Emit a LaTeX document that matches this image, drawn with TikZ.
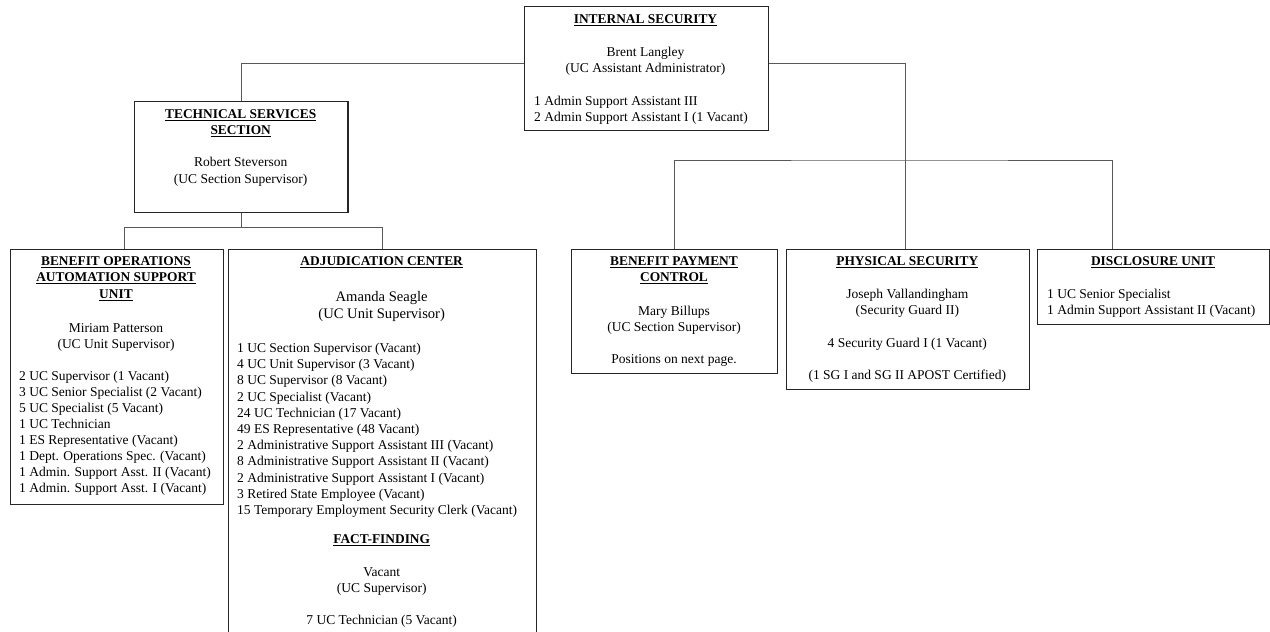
\documentclass[tikz,border=0pt]{standalone}
\usepackage{fontspec}
\setmainfont{Liberation Serif}
\begin{document}
\begin{tikzpicture}[x=1pt,y=-1pt,
  unitbox/.style={draw=black!85, line width=1.1pt, anchor=north west, inner sep=0pt},
  link/.style={draw=black!65, line width=0.9pt},
  txt/.style={anchor=base, inner sep=0pt, font=\fontsize{13.5}{16}\selectfont},
  lefttxt/.style={txt, anchor=base west},
  bigtxt/.style={txt, font=\fontsize{14.6}{17}\selectfont},
  ttl/.style={txt, font=\fontsize{13.4}{16}\selectfont\bfseries}
]
\useasboundingbox (0,0) rectangle (1270,632);

% ---- boxes ----
\node[unitbox, minimum width=244pt, minimum height=124pt] (is)  at (523.5,6) {};
\node[unitbox, minimum width=213.4pt, minimum height=111pt] (tss) at (134,100.5) {};
\node[unitbox, minimum width=213pt, minimum height=255pt] (boa) at (9.5,248.5) {};
\node[unitbox, minimum width=308.5pt, minimum height=400pt] (adj) at (227.5,248.5) {};
\node[unitbox, minimum width=206pt, minimum height=124pt] (bpc) at (571,248.5) {};
\node[unitbox, minimum width=243.5pt, minimum height=140pt] (ps)  at (785.5,248.5) {};
\node[unitbox, minimum width=232pt, minimum height=75pt] (du)  at (1037,248.5) {};

% ---- connectors ----
\coordinate (isrow) at (0,63);
\coordinate (bus1row) at (0,227);
\coordinate (bus2) at (905.6,160);
\coordinate (boaIn) at (124.5,248.5);
\coordinate (duIn) at (1112,248.5);
\draw[link] (is.west |- isrow) -| (tss.north);
\draw[link] (is.east |- isrow) -| (bus2) -- (bus2 |- ps.north);
\draw[link] (bpc.north) |- (bus2) -| (duIn);
\draw[link] (tss.south) -- (tss.south |- bus1row);
\draw[link] (boaIn) |- (bus1row -| adj.north) -- (adj.north);

% ---- Internal Security ----
\node[ttl] (is-t) at (645.5,23.5) {\underline{INTERNAL SECURITY}};
\node[txt] (is-n) at (645.5,56.5) {Brent Langley};
\node[txt] (is-r) at (645.5,72.5) {(UC Assistant Administrator)};
\node[lefttxt] (is-1) at (534,105.5) {1 Admin Support Assistant III};
\node[lefttxt] (is-2) at (534,121.5) {2 Admin Support Assistant I (1 Vacant)};

% ---- Technical Services Section ----
\node[ttl] (tss-t1) at (240.7,118.5) {\underline{TECHNICAL SERVICES}};
\node[ttl] (tss-t2) at (240.7,134.5) {\underline{SECTION}};
\node[txt] (tss-n) at (240.7,166.5) {Robert Steverson};
\node[txt] (tss-r) at (240.7,183.5) {(UC Section Supervisor)};

% ---- Benefit Operations Automation Support Unit ----
\node[ttl] (boa-t1) at (116,265.5) {\underline{BENEFIT OPERATIONS}};
\node[ttl] (boa-t2) at (116,281.5) {\underline{AUTOMATION SUPPORT}};
\node[ttl] (boa-t3) at (116,298.5) {\underline{UNIT}};
\node[txt] (boa-n) at (116,332.5) {Miriam Patterson};
\node[txt] (boa-r) at (116,348.5) {(UC Unit Supervisor)};
\foreach \line [count=\i from 0] in {%
  2 UC Supervisor (1 Vacant),
  3 UC Senior Specialist (2 Vacant),
  5 UC Specialist (5 Vacant),
  1 UC Technician,
  1 ES Representative (Vacant),
  1 Dept. Operations Spec. (Vacant),
  1 Admin. Support Asst. II (Vacant),
  1 Admin. Support Asst. I (Vacant)}
  \node[lefttxt] (boa-l\i) at (19,380.5+16.05*\i) {\line};

% ---- Adjudication Center ----
\node[ttl] (adj-t) at (381.7,265.5) {\underline{ADJUDICATION CENTER}};
\node[bigtxt] (adj-n) at (381.7,301) {Amanda Seagle};
\node[bigtxt] (adj-r) at (381.7,318) {(UC Unit Supervisor)};
\foreach \line [count=\i from 0] in {%
  1 UC Section Supervisor (Vacant),
  4 UC Unit Supervisor (3 Vacant),
  8 UC Supervisor (8 Vacant),
  2 UC Specialist (Vacant),
  24 UC Technician (17 Vacant),
  49 ES Representative (48 Vacant),
  2 Administrative Support Assistant III (Vacant),
  8 Administrative Support Assistant II (Vacant),
  2 Administrative Support Assistant I (Vacant),
  3 Retired State Employee (Vacant),
  15 Temporary Employment Security Clerk (Vacant)}
  \node[lefttxt] (adj-l\i) at (237,352.5+16.2*\i) {\line};
\node[ttl] (ff-t) at (381.7,543.5) {\underline{FACT-FINDING}};
\node[txt] (ff-n) at (381.7,576.5) {Vacant};
\node[txt] (ff-r) at (381.7,592.5) {(UC Supervisor)};
\node[txt] (ff-1) at (381.7,624.5) {7 UC Technician (5 Vacant)};

% ---- Benefit Payment Control ----
\node[ttl] (bpc-t1) at (674,265.5) {\underline{BENEFIT PAYMENT}};
\node[ttl] (bpc-t2) at (674,281.5) {\underline{CONTROL}};
\node[txt] (bpc-n) at (674,315.5) {Mary Billups};
\node[txt] (bpc-r) at (674,331.5) {(UC Section Supervisor)};
\node[txt] (bpc-p) at (674,363.5) {Positions on next page.};

% ---- Physical Security ----
\node[ttl] (ps-t) at (907.3,265.5) {\underline{PHYSICAL SECURITY}};
\node[txt] (ps-n) at (907.3,298.5) {Joseph Vallandingham};
\node[txt] (ps-r) at (907.3,314.5) {(Security Guard II)};
\node[txt] (ps-g) at (907.3,347.5) {4 Security Guard I (1 Vacant)};
\node[txt] (ps-c) at (907.3,379.5) {(1 SG I and SG II APOST Certified)};

% ---- Disclosure Unit ----
\node[ttl] (du-t) at (1153,265.5) {\underline{DISCLOSURE UNIT}};
\node[lefttxt] (du-1) at (1047,298.5) {1 UC Senior Specialist};
\node[lefttxt] (du-2) at (1047,314.5) {1 Admin Support Assistant II (Vacant)};
\end{tikzpicture}
\end{document}
